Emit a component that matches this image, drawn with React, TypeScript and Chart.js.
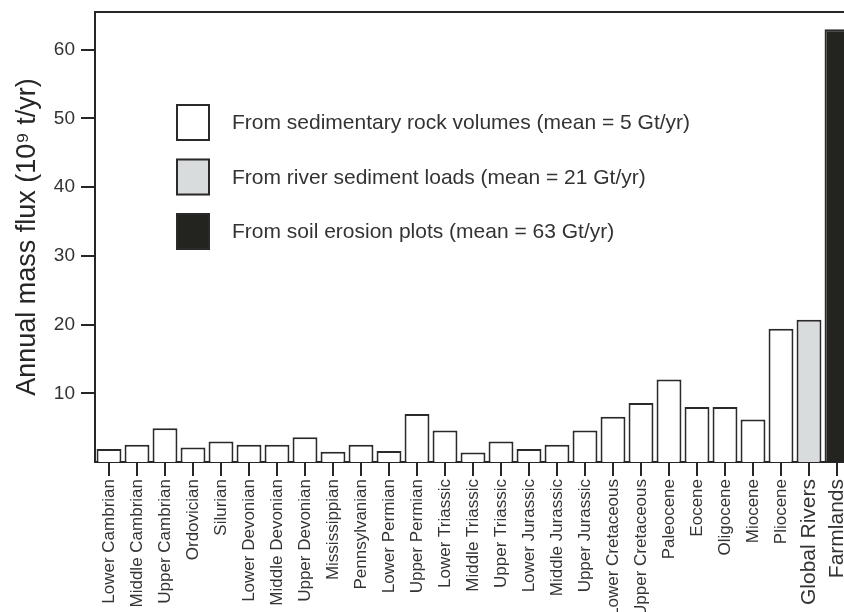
import React, { useEffect, useRef } from "react";
import { Chart, registerables } from "chart.js";

Chart.register(...registerables);

// Geological periods with flux estimated from sedimentary rock volumes (10^9 t/yr)
const epochs = [
  "Lower Cambrian", "Middle Cambrian", "Upper Cambrian", "Ordovician", "Silurian",
  "Lower Devonian", "Middle Devonian", "Upper Devonian", "Mississippian", "Pennsylvanian",
  "Lower Permian", "Upper Permian", "Lower Triassic", "Middle Triassic", "Upper Triassic",
  "Lower Jurassic", "Middle Jurassic", "Upper Jurassic", "Lower Cretaceous", "Upper Cretaceous",
  "Paleocene", "Eocene", "Oligocene", "Miocene", "Pliocene",
];
const rockFlux = [
  1.9, 2.5, 4.9, 2.1, 3.0,
  2.5, 2.5, 3.6, 1.5, 2.5,
  1.6, 7.0, 4.6, 1.4, 3.0,
  1.9, 2.5, 4.6, 6.6, 8.6,
  12.0, 8.0, 8.0, 6.2, 19.4,
];
const riverLabel = "Global Rivers";
const riverFlux = 20.7;
const farmLabel = "Farmlands";
const farmFlux = 63;

const yTicks = [10, 20, 30, 40, 50, 60];
const yMax = 65.5;

const legendLabels = [
  "From sedimentary rock volumes (mean = 5 Gt/yr)",
  "From river sediment loads (mean = 21 Gt/yr)",
  "From soil erosion plots (mean = 63 Gt/yr)",
];
const sourceColors = ["#ffffff", "#d9dcdc", "#23231f"];

const labels = [...epochs, riverLabel, farmLabel];
const values = [...rockFlux, riverFlux, farmFlux];
const barColors = [
  ...epochs.map(() => sourceColors[0]),
  sourceColors[1],
  sourceColors[2],
];

const FONT = "'Liberation Sans', Arial, Helvetica, sans-serif";
const INK = "#262626";

// Frame line along the top and the in-plot legend
const decorPlugin = {
  id: "decor",
  afterDraw(chart: any) {
    const { ctx, chartArea } = chart;
    ctx.save();
    ctx.strokeStyle = INK;
    ctx.lineWidth = 2;
    ctx.beginPath();
    ctx.moveTo(chartArea.left - 1, chartArea.top);
    ctx.lineTo(chartArea.right + 20, chartArea.top);
    ctx.stroke();

    const bx = chartArea.left + 81;
    const by = chartArea.top + 92;
    const bw = 34;
    const bh = 37;
    const step = 54.5;
    ctx.font = `21px ${FONT}`;
    ctx.textBaseline = "middle";
    ctx.textAlign = "left";
    legendLabels.forEach((txt, i) => {
      const y = by + i * step;
      ctx.fillStyle = sourceColors[i];
      ctx.fillRect(bx, y, bw, bh);
      ctx.lineWidth = 2;
      ctx.strokeStyle = "#2a2a2a";
      ctx.strokeRect(bx + 1, y + 1, bw - 2, bh - 2);
      ctx.fillStyle = "#333333";
      ctx.fillText(txt, bx + 56, y + bh / 2 + 1);
    });
    ctx.restore();
  },
};

export default function App() {
  const canvasRef = useRef<HTMLCanvasElement | null>(null);

  useEffect(() => {
    const canvas = canvasRef.current;
    if (!canvas) return;
    const chart = new Chart(canvas, {
      type: "bar",
      data: {
        labels,
        datasets: [
          {
            data: values,
            backgroundColor: barColors,
            borderColor: "#2a2a2a",
            borderWidth: 2,
            barPercentage: 0.89,
            categoryPercentage: 1.0,
          },
        ],
      },
      options: {
        responsive: false,
        animation: false,
        devicePixelRatio: 1,
        layout: { padding: { top: 4, left: 0, right: 0, bottom: 0 } },
        plugins: {
          legend: { display: false },
          tooltip: { enabled: false },
        },
        scales: {
          x: {
            offset: true,
            grid: {
              drawOnChartArea: false,
              offset: false,
              tickLength: 14,
              lineWidth: 2,
              color: INK,
            },
            border: { display: true, color: INK, width: 2 },
            ticks: {
              autoSkip: false,
              minRotation: 90,
              maxRotation: 90,
              padding: 3,
              color: "#333333",
              font: (ctx: any) =>
                ctx.index >= epochs.length
                  ? { family: FONT, size: 21 }
                  : { family: FONT, size: 17 },
            },
            afterFit: (s: any) => {
              s.height = 150;
              s.paddingLeft = 0;
              s.paddingRight = 0;
            },
          },
          y: {
            min: 0,
            max: yMax,
            afterBuildTicks: (axis: any) => {
              axis.ticks = yTicks.map((v) => ({ value: v }));
            },
            grid: {
              drawOnChartArea: false,
              tickLength: 14,
              lineWidth: 2,
              color: INK,
            },
            border: { display: true, color: INK, width: 2 },
            ticks: {
              padding: 6,
              color: "#333333",
              font: { family: FONT, size: 19 },
            },
            title: {
              display: true,
              text: "Annual mass flux (10\u2079 t/yr)",
              color: "#262626",
              font: { family: FONT, size: 27 },
              padding: { top: 3, bottom: 0 },
            },
            afterFit: (s: any) => {
              s.width = 87;
              s.paddingTop = 0;
              s.paddingBottom = 0;
            },
          },
        },
      },
      plugins: [decorPlugin],
    });
    return () => chart.destroy();
  }, []);

  return (
    <div
      style={{
        position: "fixed",
        left: 8,
        top: 8,
        width: 836,
        height: 604,
        overflow: "hidden",
      }}
    >
      <canvas
        ref={canvasRef}
        width={843}
        height={604}
        style={{ display: "block", width: 843, height: 604 }}
      />
    </div>
  );
}
